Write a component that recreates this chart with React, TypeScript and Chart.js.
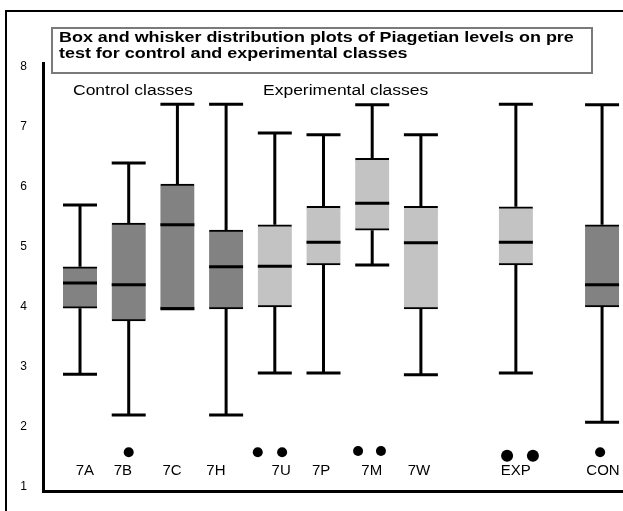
import { useEffect, useRef } from 'react';
import { Chart, registerables } from 'chart.js';

Chart.register(...registerables);

// ---- data ----
const classNames = ['7A', '7B', '7C', '7H', '7U', '7P', '7M', '7W', 'EXP', 'CON'];
const classGroups = ['control', 'control', 'control', 'control', 'experimental', 'experimental', 'experimental', 'experimental', 'experimental', 'control'];
const classSlots = [1, 2, 3, 4, 5, 6, 7, 8, 9.95, 11.72];
const classLabelSlots = [1.1, 1.88, 2.89, 3.79, 5.13, 5.95, 6.99, 7.96, 9.95, 11.74];
const whiskerLow = [2.88, 2.2, 3.97, 2.2, 2.9, 2.9, 4.7, 2.87, 2.9, 2.08];
const quartile1 = [3.98, 3.77, 3.97, 3.97, 4.0, 4.7, 5.28, 3.97, 4.7, 4.0];
const medians = [4.4, 4.37, 5.37, 4.67, 4.68, 5.08, 5.73, 5.07, 5.08, 4.37];
const quartile3 = [4.67, 5.4, 6.05, 5.28, 5.37, 5.68, 6.48, 5.68, 5.67, 5.37];
const whiskerHigh = [5.7, 6.4, 7.38, 7.38, 6.9, 6.87, 7.37, 6.87, 7.38, 7.37];
const outlierClasses = ['7B', '7U', '7U', '7M', '7M', 'EXP', 'EXP', 'CON'];
const outlierSlots = [2, 4.65, 5.15, 6.71, 7.18, 9.77, 10.3, 11.68];
const outlierValues = [1.58, 1.58, 1.58, 1.6, 1.6, 1.52, 1.52, 1.58];
const yTicks = [1, 2, 3, 4, 5, 6, 7, 8];
const titleLines = [
  'Box and whisker distribution plots of Piagetian levels on pre',
  'test for control and experimental classes',
];
const groupLabels = ['Control classes', 'Experimental classes'];
const groupLabelSlots = [0.856, 4.757];
const groupLabelLevel = 7.53;

const DARK = '#828282';
const LIGHT = '#c3c3c3';
const FONT = '"Liberation Sans", Arial, Helvetica, sans-serif';

const decorPlugin = {
  id: 'decor',
  afterDraw(chart: any) {
    const { ctx, chartArea, scales } = chart;
    const x = scales.x;
    const y = scales.y;
    ctx.save();
    // outer frame
    ctx.strokeStyle = '#000';
    ctx.lineWidth = 2;
    ctx.beginPath();
    ctx.moveTo(6, chart.height);
    ctx.lineTo(6, 11);
    ctx.lineTo(chart.width, 11);
    ctx.stroke();

    // title box
    const bx = chartArea.left + 9;
    const by = 28;
    const bw = 540;
    const bh = 45;
    ctx.fillStyle = '#fff';
    ctx.fillRect(bx, by, bw, bh);
    ctx.strokeStyle = '#7a7a7a';
    ctx.lineWidth = 2;
    ctx.strokeRect(bx, by, bw, bh);

    ctx.fillStyle = '#000';
    ctx.textBaseline = 'alphabetic';
    ctx.textAlign = 'left';
    ctx.font = 'bold 14px ' + FONT;
    titleLines.forEach((t, i) => {
      ctx.save();
      ctx.translate(bx + 7, by + 14 + 16 * i);
      ctx.scale(1.28, 1);
      ctx.fillText(t, 0, 0);
      ctx.restore();
    });

    // group labels
    ctx.font = '14px ' + FONT;
    groupLabels.forEach((t, i) => {
      ctx.save();
      ctx.translate(x.getPixelForValue(groupLabelSlots[i]), y.getPixelForValue(groupLabelLevel));
      ctx.scale(1.25, 1);
      ctx.fillText(t, 0, 0);
      ctx.restore();
    });
    ctx.restore();
  },
};

export default function App() {
  const ref = useRef<HTMLCanvasElement>(null);

  useEffect(() => {
    const whiskerPoints: any[] = [];
    classSlots.forEach((xv, i) => {
      whiskerPoints.push(
        { x: xv, y: whiskerHigh[i] },
        { x: xv, y: quartile3[i] },
        { x: xv, y: null },
        { x: xv, y: quartile1[i] },
        { x: xv, y: whiskerLow[i] },
        { x: xv, y: null },
      );
    });
    const capPoints: any[] = [];
    classSlots.forEach((xv, i) => {
      capPoints.push({ x: xv, y: whiskerHigh[i] }, { x: xv, y: whiskerLow[i] });
    });

    const chart = new Chart(ref.current as HTMLCanvasElement, {
      type: 'bar',
      data: {
        datasets: [
          {
            type: 'scatter',
            label: 'Outliers',
            data: outlierSlots.map((xv, i) => ({ x: xv, y: outlierValues[i] })),
            pointStyle: 'circle',
            pointRadius: (c: any) => (outlierClasses[c.dataIndex] === 'EXP' ? 6 : 5),
            pointBackgroundColor: '#000',
            pointBorderWidth: 0,
            order: 0,
          } as any,
          {
            type: 'scatter',
            label: 'Median',
            data: classSlots.map((xv, i) => ({ x: xv, y: medians[i] })),
            pointStyle: 'line',
            pointRadius: 17,
            pointBorderWidth: 3,
            pointBorderColor: '#000',
            order: 0,
          } as any,
          {
            type: 'scatter',
            label: 'Caps',
            data: capPoints,
            pointStyle: 'line',
            pointRadius: 17,
            pointBorderWidth: 3,
            pointBorderColor: '#000',
            order: 1,
          } as any,
          {
            type: 'bar',
            label: 'Interquartile range',
            data: classSlots.map((xv, i) => ({ x: xv, y: [quartile1[i], quartile3[i]] })),
            backgroundColor: classGroups.map((g) => (g === 'control' ? DARK : LIGHT)),
            borderColor: '#000',
            borderWidth: { top: 2, bottom: 2, left: 0, right: 0 },
            borderSkipped: false,
            barThickness: 34,
            order: 2,
          } as any,
          {
            type: 'line',
            label: 'Whiskers',
            data: whiskerPoints,
            borderColor: '#000',
            borderWidth: 3,
            pointRadius: 0,
            spanGaps: false,
            fill: false,
            order: 3,
          } as any,
        ],
      },
      options: {
        responsive: false,
        animation: false,
        devicePixelRatio: 1,
        events: [],
        layout: { autoPadding: false, padding: { top: 63, left: 0, right: 0, bottom: 0 } },
        plugins: {
          legend: { display: false },
          tooltip: { enabled: false },
          title: { display: false },
        },
        scales: {
          x: {
            type: 'linear',
            min: 0.24,
            max: 12.15,
            offset: false,
            grid: { display: false, drawTicks: false },
            border: { display: true, color: '#000', width: 3 },
            ticks: {
              autoSkip: false,
              maxRotation: 0,
              minRotation: 0,
              mirror: true,
              padding: 11,
              color: '#000',
              font: { family: FONT, size: 15 },
              callback: (v: any) => classNames[classLabelSlots.indexOf(Number(v))] ?? '',
            },
            afterBuildTicks: (s: any) => {
              s.ticks = classLabelSlots.map((v) => ({ value: v }));
            },
            afterFit: (s: any) => {
              s.height = 20;
              s.paddingLeft = 0;
              s.paddingRight = 0;
            },
          },
          y: {
            type: 'linear',
            min: 0.933,
            max: 8.067,
            beginAtZero: false,
            grid: { display: false, drawTicks: false },
            border: { display: true, color: '#000', width: 3 },
            ticks: {
              padding: 16,
              color: '#000',
              font: { family: FONT, size: 12 },
              callback: (v: any) => String(v),
            },
            afterBuildTicks: (s: any) => {
              s.ticks = yTicks.map((v) => ({ value: v }));
            },
            afterFit: (s: any) => {
              s.width = 43;
              s.paddingTop = 0;
              s.paddingBottom = 0;
            },
          },
        },
      } as any,
      plugins: [decorPlugin],
    });
    return () => chart.destroy();
  }, []);

  return (
    <div style={{ position: 'fixed', left: 0, top: 0, width: 623, height: 511, background: '#fff' }}>
      <canvas ref={ref} width={623} height={511} style={{ display: 'block', width: 623, height: 511 }} />
    </div>
  );
}
